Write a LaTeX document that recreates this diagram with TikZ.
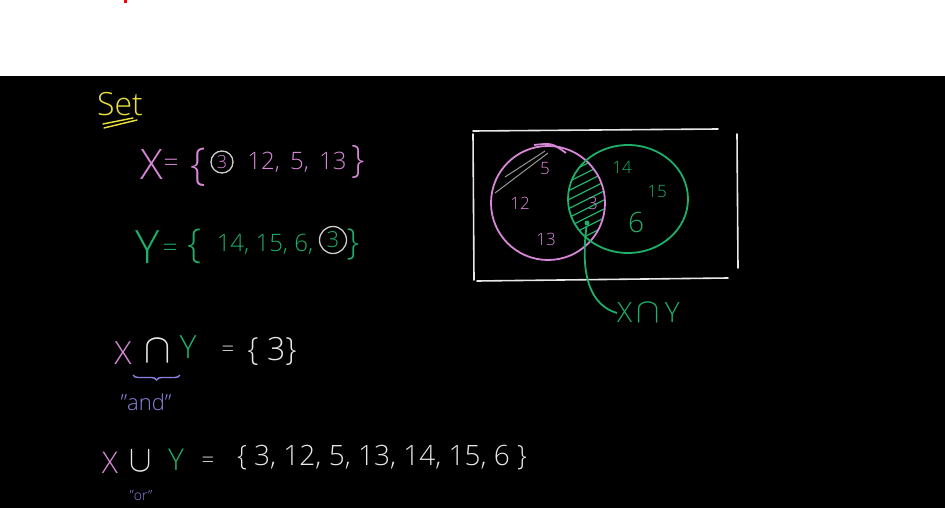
\documentclass[tikz,border=0pt]{standalone}
\usepackage{fontspec}
\setmainfont{Open Sans}[UprightFont={* Light}]
\usetikzlibrary{positioning, decorations.pathreplacing}

\definecolor{xpink}{RGB}{215,135,215}
\definecolor{ygreen}{RGB}{30,175,105}
\definecolor{chalk}{RGB}{232,232,232}
\definecolor{ringgray}{RGB}{205,205,205}
\definecolor{hatchgray}{RGB}{150,150,150}
\definecolor{titleyellow}{RGB}{235,225,60}
\definecolor{notepurple}{RGB}{140,130,225}

\newcommand{\chalksize}[1]{\fontsize{#1}{#1}\selectfont}
\newcommand{\chalkcap}{\scalebox{1.9}[2.0]{$\cap$}}
\newcommand{\chalkcup}{\scalebox{1.6}[1.8]{$\cup$}}

\begin{document}
\begin{tikzpicture}[
    x=1pt, y=-1pt,
    xtxt/.style={text=xpink, inner sep=0pt},
    ytxt/.style={text=ygreen, inner sep=0pt},
    wtxt/.style={text=chalk, inner sep=0pt},
    note/.style={text=notepurple, inner sep=0pt},
    ring/.style={draw=ringgray, circle, line width=1.3pt, inner sep=0pt},
    frame/.style={draw=chalk, line width=1.6pt, line cap=round},
    xline/.style={draw=xpink, line width=1.8pt},
    yline/.style={draw=ygreen, line width=1.8pt}
]
\useasboundingbox (0,0) rectangle (945,508);

% --- Background ---
\fill[white] (0,0) rectangle (945,76);
\fill[black] (0,76) rectangle (945,508);
\fill[red] (124,0) rectangle (127,3);

% --- Title ---
\node[text=titleyellow, inner sep=0pt, font=\chalksize{32}] (title) at (120,104) {Set};
\draw[titleyellow, line width=1.4pt, line cap=round] (104,128) -- (137,120);
\draw[titleyellow, line width=1.4pt, line cap=round] (103,124) -- (133,118);

% --- Set X ---
\node[xtxt, font=\chalksize{42}] (xname) at (152,165) {X};
\node[xtxt, font=\chalksize{26}] (xeq) at (171,165) {=};
\node[xtxt, font=\chalksize{44}] (xopen) at (198,167) {\{};
\node[ring, xtxt, minimum size=22pt, font=\chalksize{18}] (xthree) at (222,162) {3};
\node[xtxt, font=\chalksize{24}] (xrest) at (297,162) {12,\, 5,\, 13};
\node[xtxt, font=\chalksize{38}] (xclose) at (358,162) {\}};

% --- Set Y ---
\node[ytxt, font=\chalksize{46}] (yname) at (148,247) {Y};
\node[ytxt, font=\chalksize{26}] (yeq) at (170,250) {=};
\node[ytxt, font=\chalksize{40}] (yopen) at (195,246) {\{};
\node[ytxt, font=\chalksize{24}] (yrest) at (265,244) {14, 15, 6,};
\node[ring, ytxt, minimum size=27pt, font=\chalksize{22}] (ythree) at (333,240) {3};
\node[ytxt, font=\chalksize{36}] (yclose) at (353,244) {\}};

% --- Intersection ---
\node[xtxt, font=\chalksize{32}] (ixname) at (123,353) {X};
\node[wtxt, font=\chalksize{22}] (icap) at (158,351) {\chalkcap};
\node[ytxt, font=\chalksize{32}] (iyname) at (188,347) {Y};
\node[wtxt, font=\chalksize{22}] (ieq) at (228,351) {=};
\node[wtxt, font=\chalksize{32}] (iset) at (272,351) {\{ 3\}};
\draw[notepurple, line width=1.4pt, decorate, decoration={brace, mirror, amplitude=5pt}]
    (133,375) -- (180,375);
\node[note, font=\chalksize{22}] (iand) at (146,402) {"and"};

% --- Union ---
\node[xtxt, font=\chalksize{30}] (uxname) at (110,463) {X};
\node[wtxt, font=\chalksize{22}] (ucup) at (141,461) {\chalkcup};
\node[ytxt, font=\chalksize{30}] (uyname) at (176,460) {Y};
\node[wtxt, font=\chalksize{22}] (ueq) at (208,462) {=};
\node[wtxt, font=\chalksize{28}] (uset) at (382,458) {\{ 3, 12, 5, 13, 14, 15, 6 \}};
\node[note, font=\chalksize{14}] (uor) at (141,496) {"or"};

% --- Venn diagram ---
\draw[frame] (473,131) -- (718,129);
\draw[frame] (473,134) -- (474,280);
\draw[frame] (737,134) -- (738,268);
\draw[frame] (477,281) -- (728,278);

\begin{scope}
  \clip (548,203) circle (57);
  \clip (628,199) ellipse (60 and 54);
  \foreach \k in {0,...,14}
    \draw[ygreen, line width=1.2pt] (560,150+9*\k) -- (620,120+9*\k);
\end{scope}
\draw[hatchgray, line width=1pt] (495,193) -- (548,153);
\draw[hatchgray, line width=1pt] (505,177) -- (545,151);

\draw[xline] (548,203) circle (57);
\draw[xline] (534,145) .. controls (552,143) .. (566,153);
\draw[yline] (628,199) ellipse (60 and 54);

\node[xtxt, font=\chalksize{17}] (v5) at (545,169) {5};
\node[xtxt, font=\chalksize{17}] (v12) at (520,203) {12};
\node[xtxt, font=\chalksize{17}] (v13) at (546,239) {13};
\node[xtxt, font=\chalksize{17}] (v3) at (593,203) {3};
\node[ytxt, font=\chalksize{17}] (v14) at (622,167) {14};
\node[ytxt, font=\chalksize{17}] (v15) at (657,192) {15};
\node[ytxt, font=\chalksize{28}] (v6) at (636,222) {6};

% pointer to the shaded part
\node[circle, fill=ygreen, inner sep=0pt, minimum size=5pt] (idot) at (587,223) {};
\node[ytxt, font=\chalksize{28}, anchor=west] (ilabel) at (617,313) {X\,{\scalebox{1.4}{$\cap$}}\,Y};
\draw[yline] (idot) .. controls (580,275) and (590,305) .. (ilabel.west);

\end{tikzpicture}
\end{document}
